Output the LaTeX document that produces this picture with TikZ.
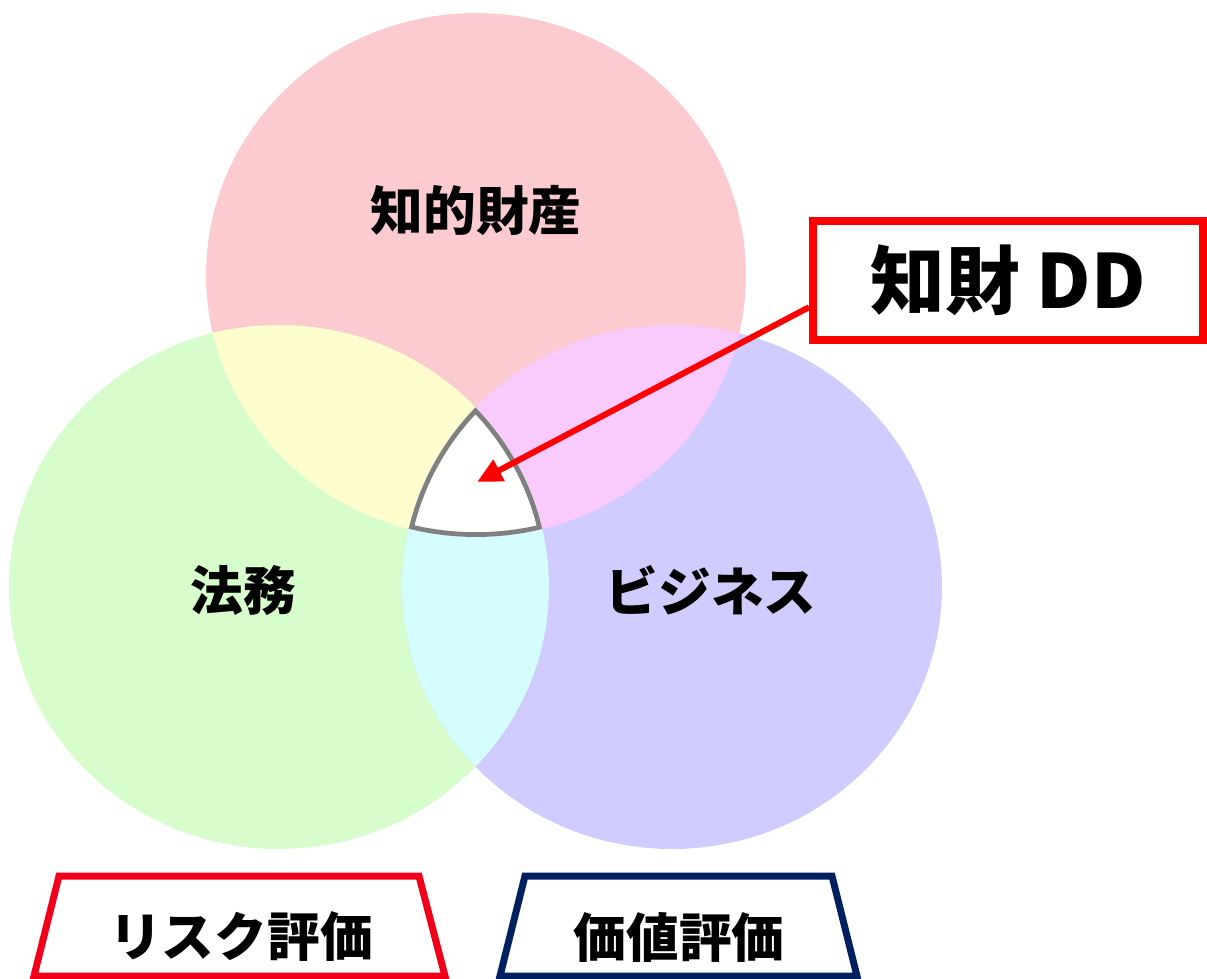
\documentclass[tikz,border=0pt]{standalone}
\usepackage{fontspec}
\newfontfamily\jp{Noto Sans CJK JP}
\usetikzlibrary{calc,arrows.meta}

\definecolor{chizaipink}{RGB}{251,203,208}
\definecolor{houmugreen}{RGB}{216,253,204}
\definecolor{bizpurple}{RGB}{208,204,253}
\definecolor{tlyellow}{RGB}{253,253,206}
\definecolor{trmagenta}{RGB}{249,203,253}
\definecolor{lrcyan}{RGB}{214,253,253}
\definecolor{ddred}{RGB}{255,0,0}
\definecolor{riskred}{RGB}{240,0,25}
\definecolor{valuenavy}{RGB}{0,32,96}

\tikzset{
  field/.style={font=\jp\bfseries\fontsize{30}{36}\selectfont},
  ddbox/.style={draw=ddred, line width=0.16cm, fill=white, inner sep=0pt,
    minimum width=7.8cm, minimum height=2.38cm,
    font=\jp\bfseries\fontsize{42.5}{50}\selectfont},
  frame/.style={line width=0.14cm, line join=miter},
}

\begin{document}
\begin{tikzpicture}[x=0.02cm,y=-0.02cm]
  \useasboundingbox (0,0) rectangle (1207,978);

  \coordinate (T) at (476,275);
  \coordinate (L) at (279,587);
  \coordinate (R) at (672,587);

  \fill[chizaipink] (T) ellipse [x radius=5.4cm, y radius=5.24cm];
  \fill[houmugreen] (L) ellipse [x radius=5.4cm, y radius=5.24cm];
  \fill[bizpurple] (R) ellipse [x radius=5.4cm, y radius=5.24cm];

  \begin{scope}
    \clip (T) ellipse [x radius=5.4cm, y radius=5.24cm];
    \fill[tlyellow] (L) ellipse [x radius=5.4cm, y radius=5.24cm];
    \fill[trmagenta] (R) ellipse [x radius=5.4cm, y radius=5.24cm];
  \end{scope}
  \begin{scope}
    \clip (L) ellipse [x radius=5.4cm, y radius=5.24cm];
    \fill[lrcyan] (R) ellipse [x radius=5.4cm, y radius=5.24cm];
  \end{scope}

  % all three
  \begin{scope}
    \clip (T) ellipse [x radius=5.4cm, y radius=5.24cm];
    \clip (L) ellipse [x radius=5.4cm, y radius=5.24cm];
    \clip (R) ellipse [x radius=5.4cm, y radius=5.24cm];
    \fill[white] (T) ellipse [x radius=5.4cm, y radius=5.24cm];
    \draw[gray, line width=0.19cm]
      (T) ellipse [x radius=5.4cm, y radius=5.24cm]
      (L) ellipse [x radius=5.4cm, y radius=5.24cm]
      (R) ellipse [x radius=5.4cm, y radius=5.24cm];
  \end{scope}

  \node[field] (chizai) at (476,210) {知的財産};
  \node[field] (houmu) at (243,590) {法務};
  \node[field] (biz) at (711,590) {ビジネス};

  \node[ddbox] (dd) at (1008,280.5) {知財 DD};
  \coordinate (tip) at (477,482);
  \draw[ddred, line width=0.12cm, -{Triangle[length=0.5cm, width=0.46cm]}]
    ($(dd.south west)!0.29!(dd.north west)$) -- (tip);

  \draw[frame, riskred] (59,876) -- (419,876) -- (445,976) -- (34,976) -- cycle;
  \node[field] (risk) at (241,937) {リスク評価};
  \draw[frame, valuenavy] (525,876) -- (832,876) -- (857,976) -- (500,976) -- cycle;
  \node[field] (value) at (679,937) {価値評価};
\end{tikzpicture}
\end{document}
